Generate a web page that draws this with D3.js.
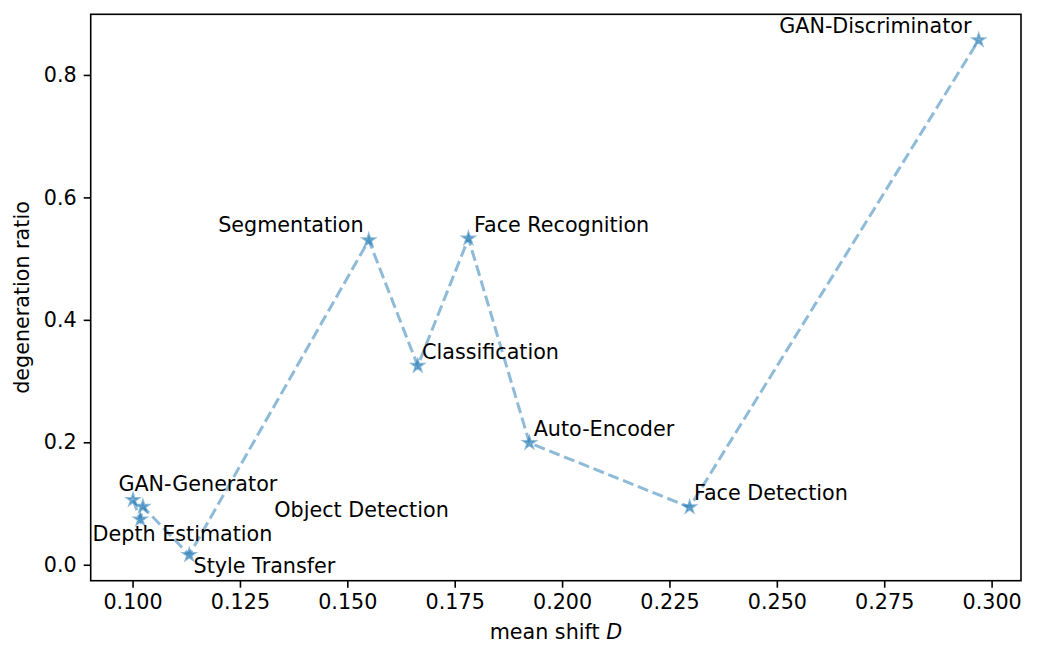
<!doctype html>
<html>
<head>
    <script src="https://cdnjs.cloudflare.com/ajax/libs/d3/7.8.5/d3.min.js"></script>
    <style>
        body { margin: 0; background: #fff; }
        text { font-family: "DejaVu Sans", sans-serif; }
    </style>
</head>
<body>
<svg id="chart" width="1038" height="660"></svg>
<script>
    // tasks, sorted by mean shift (the line follows this order)
    const tasks = ["GAN-Generator", "Depth Estimation", "Object Detection", "Style Transfer",
        "Segmentation", "Classification", "Face Recognition", "Auto-Encoder",
        "Face Detection", "GAN-Discriminator"];
    const meanShift = [0.1001, 0.1018, 0.1024, 0.1132, 0.1550, 0.1664, 0.1782, 0.1924, 0.2297, 0.2970];
    const degenRatio = [0.106, 0.074, 0.095, 0.016, 0.530, 0.325, 0.533, 0.199, 0.094, 0.857];

    // where each label sits relative to its point, in data units
    const labelDx = [-0.0034, -0.0111, 0.0306, 0.001, -0.0012, 0.001, 0.0013, 0.001, 0.001, -0.0017];
    const labelDy = [0.014, -0.036, -0.0165, -0.03, 0.013, 0.011, 0.011, 0.011, 0.011, 0.011];
    const labelAnchor = ["start", "start", "start", "start", "end", "start", "start", "start", "start", "end"];

    const xTicks = [0.100, 0.125, 0.150, 0.175, 0.200, 0.225, 0.250, 0.275, 0.300];
    const yTicks = [0.0, 0.2, 0.4, 0.6, 0.8];

    const plotL = 90.7, plotR = 1021, plotT = 14.3, plotB = 580.7;
    const fontSize = 20.7;
    const blue = "#1f77b4";

    // matplotlib style 5% margins
    function padded(vals) {
        const [lo, hi] = d3.extent(vals);
        const m = (hi - lo) * 0.05;
        return [lo - m, hi + m];
    }

    const x = d3.scaleLinear().domain(padded(meanShift)).range([plotL, plotR]);
    const y = d3.scaleLinear().domain(padded(degenRatio)).range([plotB, plotT]);

    const svg = d3.select("#chart");
    const points = tasks.map((t, i) => ({name: t, x: meanShift[i], y: degenRatio[i], i: i}));

    // axes
    const xAxis = svg.append("g")
        .attr("transform", `translate(0,${plotB})`)
        .call(d3.axisBottom(x).tickValues(xTicks).tickFormat(d3.format(".3f"))
            .tickSize(7).tickPadding(7).tickSizeOuter(0));
    const yAxis = svg.append("g")
        .attr("transform", `translate(${plotL},0)`)
        .call(d3.axisLeft(y).tickValues(yTicks).tickFormat(d3.format(".1f"))
            .tickSize(7).tickPadding(7).tickSizeOuter(0));

    [xAxis, yAxis].forEach(g => {
        g.select(".domain").remove();
        g.selectAll(".tick line").attr("stroke", "#000").attr("stroke-width", 1.6);
        g.selectAll(".tick text")
            .attr("fill", "#000")
            .style("font-family", "'DejaVu Sans', sans-serif")
            .style("font-size", fontSize + "px");
    });

    // frame
    svg.append("rect")
        .attr("x", plotL).attr("y", plotT)
        .attr("width", plotR - plotL).attr("height", plotB - plotT)
        .attr("fill", "none").attr("stroke", "#000").attr("stroke-width", 1.6);

    // dashed line
    const line = d3.line().x(d => x(d.x)).y(d => y(d.y));
    svg.append("path")
        .datum(points)
        .attr("d", line)
        .attr("fill", "none")
        .attr("stroke", blue)
        .attr("stroke-opacity", 0.5)
        .attr("stroke-width", 3)
        .attr("stroke-dasharray", "11.1,4.8");

    // star markers
    const star = d3.symbol().type(d3.symbolStar).size(43);
    svg.selectAll("path.marker")
        .data(points)
        .enter()
        .append("path")
        .attr("class", "marker")
        .attr("d", star)
        .attr("transform", d => `translate(${x(d.x)},${y(d.y)})`)
        .attr("fill", blue)
        .attr("fill-opacity", 0.5)
        .attr("stroke", blue)
        .attr("stroke-opacity", 0.5)
        .attr("stroke-width", 2)
        .attr("stroke-linejoin", "miter");

    // labels
    svg.selectAll("text.label")
        .data(points)
        .enter()
        .append("text")
        .attr("class", "label")
        .attr("x", d => x(d.x + labelDx[d.i]))
        .attr("y", d => y(d.y + labelDy[d.i]))
        .attr("text-anchor", d => labelAnchor[d.i])
        .style("font-size", fontSize + "px")
        .text(d => d.name);

    // axis titles
    const xt = svg.append("text")
        .attr("x", (plotL + plotR) / 2)
        .attr("y", 639)
        .attr("text-anchor", "middle")
        .style("font-size", fontSize + "px");
    xt.append("tspan").text("mean shift ");
    xt.append("tspan").style("font-style", "italic").text("D");

    svg.append("text")
        .attr("transform", `translate(29,${(plotT + plotB) / 2}) rotate(-90)`)
        .attr("text-anchor", "middle")
        .style("font-size", fontSize + "px")
        .text("degeneration ratio");
</script>
</body>
</html>
